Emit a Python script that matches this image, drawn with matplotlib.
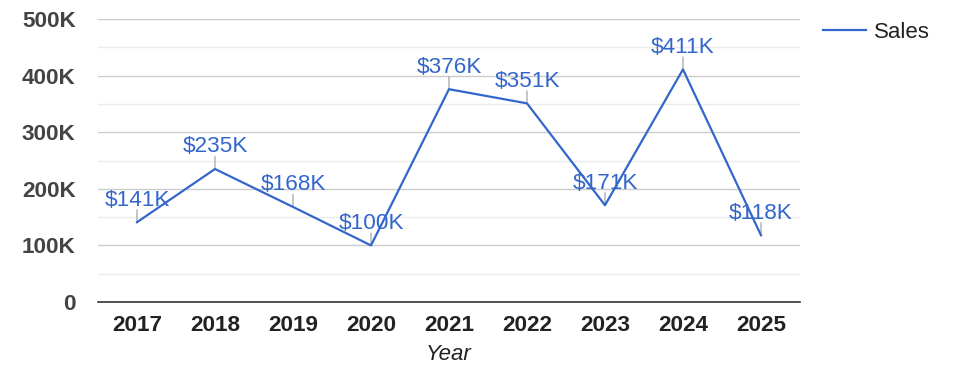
import matplotlib
matplotlib.use("Agg")
import matplotlib.pyplot as plt
from matplotlib.ticker import MultipleLocator, FuncFormatter

plt.rcParams["font.family"] = ["Liberation Sans", "DejaVu Sans"]

years = ["2017", "2018", "2019", "2020", "2021", "2022", "2023", "2024", "2025"]
sales = [141, 235, 168, 100, 376, 351, 171, 411, 118]   # thousands
labels = ["$141K", "$235K", "$168K", "$100K", "$376K", "$351K", "$171K", "$411K", "$118K"]

BLUE = "#3366cc"

fig = plt.figure(figsize=(9.75, 3.78), dpi=100)
ax = fig.add_axes([0.1005, 0.201, 0.72, 0.7487])

x = list(range(len(years)))
ax.plot(x, sales, color=BLUE, lw=1.6, label="Sales", zorder=3)

for xi, v, lab in zip(x, sales, labels):
    ax.annotate("", xy=(xi, v), xytext=(0, 9), textcoords="offset points",
                arrowprops=dict(arrowstyle="-", color="#999999", lw=0.8,
                                shrinkA=0, shrinkB=0), zorder=2)
    ax.annotate(lab, xy=(xi, v), xytext=(0, 12), textcoords="offset points",
                ha="center", va="baseline", fontsize=16.2, color=BLUE, zorder=4)

ax.set_xlim(-0.5, len(years) - 0.5)
ax.set_ylim(0, 500)
ax.set_xticks(x)
ax.set_xticklabels(years)
ax.yaxis.set_major_locator(MultipleLocator(100))
ax.yaxis.set_minor_locator(MultipleLocator(50))
ax.yaxis.set_major_formatter(FuncFormatter(lambda v, p: "0" if v == 0 else f"{int(v)}K"))

ax.grid(True, which="major", axis="y", color="#cccccc", lw=1)
ax.grid(True, which="minor", axis="y", color="#ebebeb", lw=1)
ax.set_axisbelow(True)
for s in ["top", "right", "left"]:
    ax.spines[s].set_visible(False)
ax.spines["bottom"].set_color("#333333")
ax.spines["bottom"].set_linewidth(1.2)
ax.tick_params(axis="both", which="both", length=0)
ax.tick_params(axis="y", pad=16, labelsize=16.2, labelcolor="#444444")
ax.tick_params(axis="x", pad=9, labelsize=16.2, labelcolor="#222222")
for t in ax.get_xticklabels() + ax.get_yticklabels():
    t.set_fontweight("bold")

ax.set_xlabel("Year", fontsize=16, style="italic", color="#222222", labelpad=6)

leg = ax.legend(loc="upper left", bbox_to_anchor=(1.004, 1.06), frameon=False,
                fontsize=16, handlelength=1.95, handletextpad=0.35,
                labelcolor="#222222")

fig.savefig("out.png", dpi=100)
